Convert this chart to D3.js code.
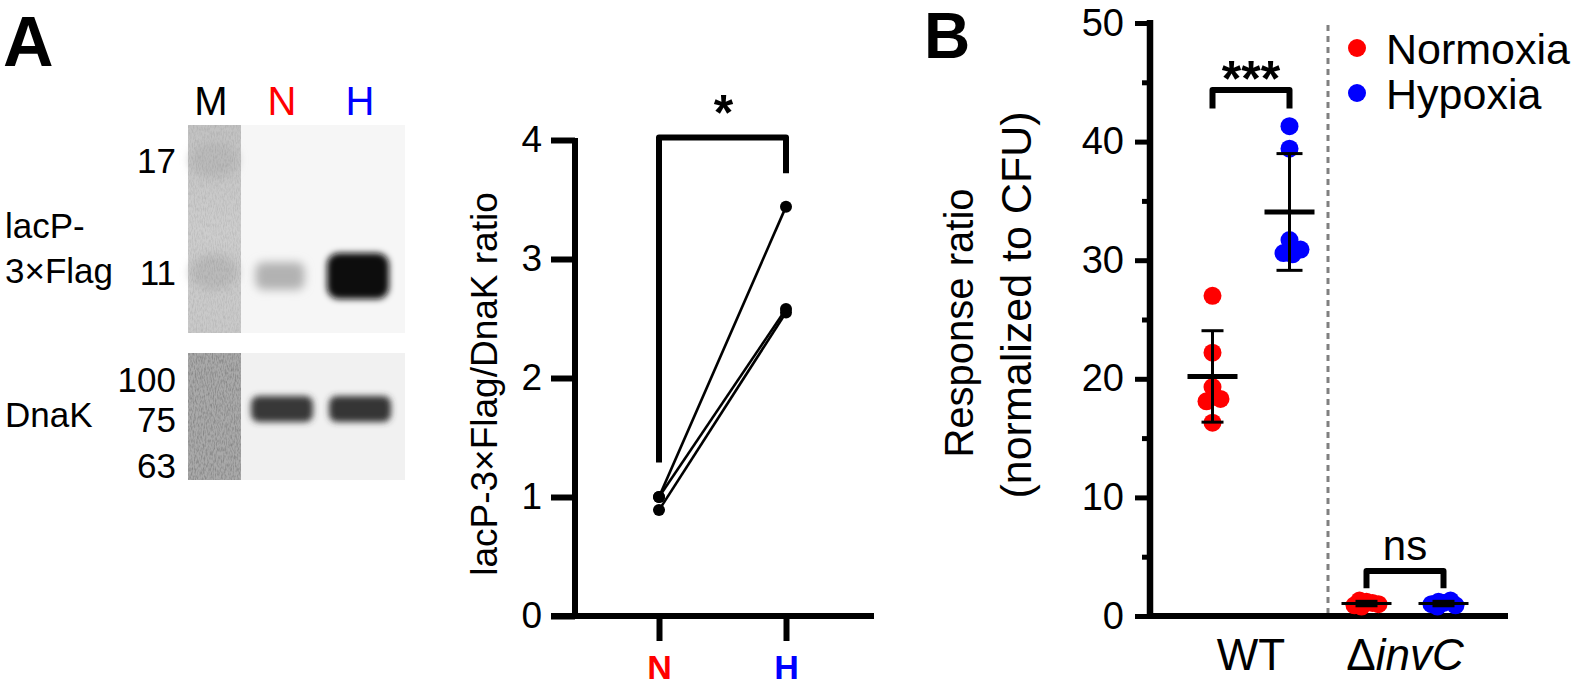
<!DOCTYPE html>
<html><head><meta charset="utf-8">
<script src="https://cdn.jsdelivr.net/npm/d3@7"></script>
<style>
body{margin:0;background:#fff}
svg{display:block}
text{font-family:"Liberation Sans",Arial,Helvetica,sans-serif}
</style>
</head><body>
<svg id="c" width="1572" height="686"></svg>
<script>
// ---------------- DATA ----------------
const blotLanes = ["M", "N", "H"];
const laneColors = ["#000000", "#ff0000", "#0000ff"];
const upperMarkers = ["17", "11"];
const lowerMarkers = ["100", "75", "63"];
const upperBandIntensity = [0.28, 1.0];   // N, H (lacP-3×Flag)
const lowerBandIntensity = [0.80, 0.82];  // N, H (DnaK)
const upperTargetLines = ["lacP-", "3×Flag"];
const lowerTarget = "DnaK";

const pairCategories = ["N", "H"];
const pairColors = ["#ff0000", "#0000ff"];
const pairN = [1.00, 1.00, 0.89];
const pairH = [3.44, 2.58, 2.55];
const ratioTicks = [0, 1, 2, 3, 4];
const ratioTitle = "lacP-3×Flag/DnaK ratio";
const pairSig = "*";

const groups = ["WT", "ΔinvC"];
const conditions = ["Normoxia", "Hypoxia"];
const conditionColors = ["#ff0000", "#0000ff"];
const wtNormoxia = [27.0, 22.2, 19.3, 18.3, 18.1, 16.3];
const wtHypoxia = [31.7, 41.3, 39.4, 30.9, 30.6, 30.5];
const invcNormoxia = [1.2, 1.0, 0.9, 1.3, 1.1, 0.8];
const invcHypoxia = [1.1, 0.9, 1.0, 1.3, 0.8, 1.2];
const responseTicks = [0, 10, 20, 30, 40, 50];
const responseMinorTicks = [5, 15, 25, 35, 45];
const responseTitle = ["Response ratio", "(normalized to CFU)"];
const groupSig = ["***", "ns"];

// ---------------- SETUP ----------------
const svg = d3.select("#c");
const defs = svg.append("defs");
const blurF = defs.append("filter").attr("id", "blur").attr("x", "-50%").attr("y", "-50%").attr("width", "200%").attr("height", "200%");
blurF.append("feGaussianBlur").attr("stdDeviation", 3);
const blurS = defs.append("filter").attr("id", "blurS").attr("x", "-50%").attr("y", "-50%").attr("width", "200%").attr("height", "200%");
blurS.append("feGaussianBlur").attr("stdDeviation", 5);
const noise = defs.append("filter").attr("id", "noise").attr("x", 0).attr("y", 0).attr("width", "100%").attr("height", "100%");
noise.append("feTurbulence").attr("type", "fractalNoise").attr("baseFrequency", "0.9 0.25").attr("numOctaves", 2).attr("seed", 3).attr("result", "t");
noise.append("feColorMatrix").attr("in", "t").attr("type", "matrix")
  .attr("values", "0 0 0 0 0  0 0 0 0 0  0 0 0 0 0  0 0 0 -0.9 0.55").attr("result", "n");
noise.append("feComposite").attr("in", "n").attr("in2", "SourceGraphic").attr("operator", "in");
const grad = defs.append("linearGradient").attr("id", "mgrad").attr("x1", 0).attr("x2", 0).attr("y1", 0).attr("y2", 1);
grad.append("stop").attr("offset", "0%").attr("stop-color", "#c2c2c2");
grad.append("stop").attr("offset", "50%").attr("stop-color", "#cdcdcd");
grad.append("stop").attr("offset", "100%").attr("stop-color", "#c9c9c9");

const FONT_BLOT = 35;

// ---------------- PANEL A: BLOT ----------------
svg.append("text").attr("x", 3).attr("y", 66).attr("font-size", 70).attr("font-weight", "bold").text("A");

const laneX = d3.scaleOrdinal().domain(blotLanes).range([211, 280, 358]);
const blotLeft = 188, markerRight = 241, blotRight = 405;
const upperTop = 125, upperBottom = 333, lowerTop = 353, lowerBottom = 480;

svg.selectAll(".lane").data(blotLanes).join("text")
  .attr("x", (d, i) => laneX(d) + (i === 0 ? 0 : 2))
  .attr("y", 115).attr("text-anchor", "middle").attr("font-size", 40)
  .attr("fill", (d, i) => laneColors[i]).text(d => d);

// upper blot
const ub = svg.append("g");
ub.append("rect").attr("x", markerRight).attr("y", upperTop).attr("width", blotRight - markerRight).attr("height", upperBottom - upperTop).attr("fill", "#f6f6f6");
ub.append("rect").attr("x", blotLeft).attr("y", upperTop).attr("width", markerRight - blotLeft).attr("height", upperBottom - upperTop).attr("fill", "url(#mgrad)");
const upperMarkerY = d3.scaleOrdinal().domain(upperMarkers).range([160, 272]);
ub.selectAll(".mk").data(upperMarkers).join("ellipse")
  .attr("cx", 214).attr("cy", d => upperMarkerY(d)).attr("rx", 24).attr("ry", 18)
  .attr("fill", "#bababa").attr("filter", "url(#blurS)");
ub.append("rect").attr("x", blotLeft).attr("y", upperTop).attr("width", markerRight - blotLeft).attr("height", upperBottom - upperTop).attr("fill", "#fff").attr("filter", "url(#noise)").attr("opacity", 0.2);
const bandColor = d3.interpolateRgb("#f4f4f4", "#0a0a0a");
ub.selectAll(".band").data(upperBandIntensity).join("rect")
  .attr("x", (d, i) => laneX(blotLanes[i + 1]) - (44 + 18 * d) / 2)
  .attr("y", d => 276 - (20 + 26 * d) / 2)
  .attr("width", d => 44 + 18 * d)
  .attr("height", d => 20 + 26 * d)
  .attr("rx", d => 6 + 6 * d)
  .attr("fill", d => bandColor(d))
  .attr("filter", (d, i) => i === 0 ? "url(#blurS)" : "url(#blur)");

// lower blot
const lb = svg.append("g");
lb.append("rect").attr("x", markerRight).attr("y", lowerTop).attr("width", blotRight - markerRight).attr("height", lowerBottom - lowerTop).attr("fill", "#f1f1f1");
lb.append("rect").attr("x", blotLeft).attr("y", lowerTop).attr("width", markerRight - blotLeft).attr("height", lowerBottom - lowerTop).attr("fill", "#a9a9a9");
lb.append("rect").attr("x", blotLeft).attr("y", lowerTop).attr("width", markerRight - blotLeft).attr("height", lowerBottom - lowerTop).attr("fill", "#fff").attr("filter", "url(#noise)").attr("opacity", 0.5);
lb.selectAll(".band").data(lowerBandIntensity).join("rect")
  .attr("x", (d, i) => laneX(blotLanes[i + 1]) + 2 - 31)
  .attr("y", 396).attr("width", 62).attr("height", 26).attr("rx", 8)
  .attr("fill", d => bandColor(d)).attr("filter", "url(#blur)");

// marker labels
svg.selectAll(".um").data(upperMarkers).join("text")
  .attr("x", 176).attr("y", d => upperMarkerY(d) + 13).attr("text-anchor", "end")
  .attr("font-size", FONT_BLOT).text(d => d);
const lowerMarkerY = d3.scaleOrdinal().domain(lowerMarkers).range([379, 419, 465]);
svg.selectAll(".lm").data(lowerMarkers).join("text")
  .attr("x", 176).attr("y", d => lowerMarkerY(d) + 13).attr("text-anchor", "end")
  .attr("font-size", FONT_BLOT).text(d => d);

svg.selectAll(".ut").data(upperTargetLines).join("text")
  .attr("x", 5).attr("y", (d, i) => 238 + i * 45).attr("font-size", FONT_BLOT).text(d => d);
svg.append("text").attr("x", 5).attr("y", 427).attr("font-size", FONT_BLOT).text(lowerTarget);

// ---------------- PANEL A: PAIRED CHART ----------------
const yA = d3.scaleLinear().domain([0, 4]).range([616, 140]);
const xA = d3.scalePoint().domain(pairCategories).range([659, 786]);
const gA = svg.append("g");

const yAxisA = gA.append("g").attr("transform", "translate(575,0)")
  .call(d3.axisLeft(yA).tickValues(ratioTicks).tickSize(24).tickPadding(9).tickSizeOuter(0).tickFormat(d3.format("d")));
yAxisA.attr("font-family", null);
yAxisA.select(".domain").attr("stroke-width", 6).attr("d", `M0,${yA(4) - 2}V${yA(0) + 3}`);
yAxisA.selectAll(".tick line").attr("stroke-width", 6);
yAxisA.selectAll(".tick text").attr("font-size", 37).attr("fill", "#000");

const xAxisA = gA.append("g").attr("transform", `translate(0,${yA(0)})`)
  .call(d3.axisBottom(xA).tickSize(25).tickPadding(14).tickSizeOuter(0));
xAxisA.select(".domain").remove();
xAxisA.attr("font-family", null);
gA.append("line").attr("x1", 551).attr("x2", 874).attr("y1", yA(0)).attr("y2", yA(0)).attr("stroke", "#000").attr("stroke-width", 6);
xAxisA.selectAll(".tick line").attr("stroke-width", 6);
xAxisA.selectAll(".tick text").attr("font-size", 34).attr("font-weight", "bold")
  .attr("fill", (d, i) => pairColors[i]);

gA.append("text").attr("transform", `translate(497,384) rotate(-90)`).attr("text-anchor", "middle")
  .attr("font-size", 37).text(ratioTitle);

const pairs = pairN.map((n, i) => [n, pairH[i]]);
gA.selectAll(".pl").data(pairs).join("line")
  .attr("x1", xA("N")).attr("y1", d => yA(d[0]))
  .attr("x2", xA("H")).attr("y2", d => yA(d[1]))
  .attr("stroke", "#000").attr("stroke-width", 2.6);
gA.selectAll(".pn").data(pairs.flatMap(d => [["N", d[0]], ["H", d[1]]])).join("circle")
  .attr("cx", d => xA(d[0])).attr("cy", d => yA(d[1])).attr("r", 6).attr("fill", "#000");

// significance bracket A
const bracketA = { top: 4.02, left: 1.29, right: 3.72 };
gA.append("path")
  .attr("d", `M${xA("N")},${yA(bracketA.left)}V${yA(bracketA.top)}H${xA("H")}V${yA(bracketA.right)}`)
  .attr("fill", "none").attr("stroke", "#000").attr("stroke-width", 6).attr("stroke-linejoin", "round");
gA.append("text").attr("x", (xA("N") + xA("H")) / 2 + 1).attr("y", 130).attr("text-anchor", "middle")
  .attr("font-size", 50).attr("font-weight", "bold").text(pairSig);

// ---------------- PANEL B ----------------
svg.append("text").attr("x", 924).attr("y", 58).attr("font-size", 64).attr("font-weight", "bold").text("B");

const yB = d3.scaleLinear().domain([0, 50]).range([616, 23]);
const xG = d3.scaleBand().domain(groups).range([1174, 1482]);
const xC = d3.scalePoint().domain(conditions).range([0, xG.bandwidth()]).padding(0.5);
const gB = svg.append("g");

// dashed separator
gB.append("line").attr("x1", xG("ΔinvC")).attr("x2", xG("ΔinvC")).attr("y1", 25).attr("y2", yB(0))
  .attr("stroke", "#808080").attr("stroke-width", 3).attr("stroke-dasharray", "6,5");

const yAxisB = gB.append("g").attr("transform", "translate(1150,0)")
  .call(d3.axisLeft(yB).tickValues(responseTicks).tickSize(15).tickPadding(11).tickSizeOuter(0));
yAxisB.attr("font-family", null);
yAxisB.select(".domain").attr("stroke-width", 6.5).attr("d", `M0,${yB(50) - 3}V${yB(0) + 3}`);
yAxisB.selectAll(".tick line").attr("stroke-width", 5);
yAxisB.selectAll(".tick text").attr("font-size", 38);
const yMinorB = gB.append("g").attr("transform", "translate(1150,0)")
  .call(d3.axisLeft(yB).tickValues(responseMinorTicks).tickSize(8).tickFormat(""));
yMinorB.select(".domain").remove();
yMinorB.selectAll(".tick line").attr("stroke-width", 5);

const xAxisB = gB.append("g").attr("transform", `translate(0,${yB(0)})`)
  .call(d3.axisBottom(xG).tickSize(0).tickPadding(23));
xAxisB.attr("font-family", null);
xAxisB.select(".domain").remove();
xAxisB.selectAll(".tick text").attr("font-size", 44).each(function (d) {
  if (d === "ΔinvC") {
    const t = d3.select(this).text("");
    t.append("tspan").text("Δ");
    t.append("tspan").attr("font-style", "italic").text("invC");
  }
});
gB.append("line").attr("x1", 1147).attr("x2", 1508).attr("y1", yB(0)).attr("y2", yB(0)).attr("stroke", "#000").attr("stroke-width", 6);

gB.append("text").attr("transform", `translate(973,323) rotate(-90)`).attr("text-anchor", "middle")
  .attr("font-size", 40).text(responseTitle[0]);
gB.append("text").attr("transform", `translate(1031,305) rotate(-90)`).attr("text-anchor", "middle")
  .attr("font-size", 43).text(responseTitle[1]);

// beeswarm placement
function swarm(vals, y, minDist, maxW) {
  const placed = [];
  vals.forEach(v => {
    const py = y(v);
    let best = null, fb = 0, fbScore = -Infinity;
    for (let k = 0; k <= maxW && best === null; k++) {
      const cands = k === 0 ? [0] : [k, -k];
      for (const dx of cands) {
        const md = placed.length ? d3.min(placed, p => Math.hypot(p.dx - dx, p.y - py)) : Infinity;
        if (md >= minDist) { best = dx; break; }
        if (md > fbScore) { fbScore = md; fb = dx; }
      }
    }
    placed.push({ v, dx: best === null ? fb : best, y: py });
  });
  return placed;
}

const series = [
  { g: "WT", c: "Normoxia", vals: wtNormoxia, cap: 11 },
  { g: "WT", c: "Hypoxia", vals: wtHypoxia, cap: 13 },
  { g: "ΔinvC", c: "Normoxia", vals: invcNormoxia, cap: 11 },
  { g: "ΔinvC", c: "Hypoxia", vals: invcHypoxia, cap: 11 }
];
series.forEach(s => {
  s.cx = xG(s.g) + xC(s.c);
  s.color = conditionColors[conditions.indexOf(s.c)];
  s.mean = d3.mean(s.vals);
  s.sd = d3.deviation(s.vals);
  s.pts = swarm(s.vals, yB, 14, s.g === "WT" ? 15 : 12);
});

series.forEach(s => {
  gB.append("g").selectAll("circle").data(s.pts).join("circle")
    .attr("cx", d => s.cx + d.dx).attr("cy", d => d.y).attr("r", 9).attr("fill", s.color);
});
series.forEach(s => {
  const g = gB.append("g").attr("stroke", "#000");
  g.append("line").attr("x1", s.cx).attr("x2", s.cx).attr("y1", yB(s.mean - s.sd)).attr("y2", yB(s.mean + s.sd)).attr("stroke-width", 3);
  [s.mean - s.sd, s.mean + s.sd].forEach(v => g.append("line")
    .attr("x1", s.cx - s.cap).attr("x2", s.cx + s.cap).attr("y1", yB(v)).attr("y2", yB(v)).attr("stroke-width", 3));
  g.append("line").attr("x1", s.cx - 25).attr("x2", s.cx + 25).attr("y1", yB(s.mean)).attr("y2", yB(s.mean))
    .attr("stroke-width", s.g === "WT" ? 5 : 3);
});

// brackets B
const bracketB = [{ g: "WT", top: 44.35, leg: 42.8, lblY: 96, size: 50, bold: true }, { g: "ΔinvC", top: 3.8, leg: 2.35, lblY: 560, size: 42, bold: false }];
bracketB.forEach((b, i) => {
  const x1 = xG(b.g) + xC("Normoxia"), x2 = xG(b.g) + xC("Hypoxia");
  gB.append("path").attr("d", `M${x1},${yB(b.leg)}V${yB(b.top)}H${x2}V${yB(b.leg)}`)
    .attr("fill", "none").attr("stroke", "#000").attr("stroke-width", 6).attr("stroke-linejoin", "round");
  gB.append("text").attr("x", (x1 + x2) / 2).attr("y", b.lblY).attr("text-anchor", "middle")
    .attr("font-size", b.size).attr("font-weight", b.bold ? "bold" : "normal").text(groupSig[i]);
});

// legend
const leg = gB.append("g");
leg.selectAll("circle").data(conditions).join("circle")
  .attr("cx", 1357).attr("cy", (d, i) => 48 + i * 45).attr("r", 9).attr("fill", (d, i) => conditionColors[i]);
leg.selectAll("text").data(conditions).join("text")
  .attr("x", 1386).attr("y", (d, i) => 64 + i * 45).attr("font-size", 43).text(d => d);
</script>
</body></html>
